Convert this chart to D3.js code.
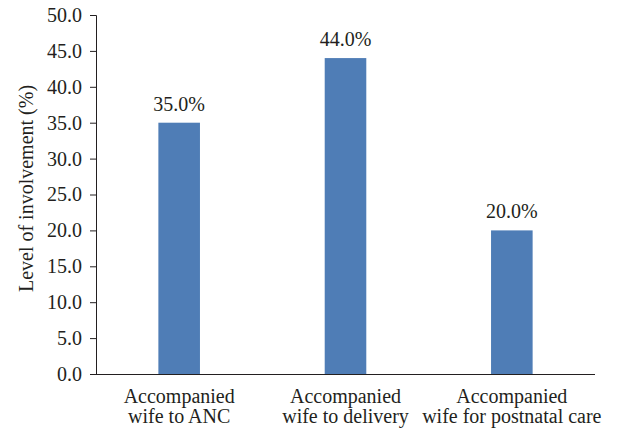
<!DOCTYPE html>
<html>
<head>
<meta charset="utf-8">
<script src="https://cdn.jsdelivr.net/npm/d3@7"></script>
<style>
  body { margin: 0; background: #fff; }
</style>
</head>
<body>
<div id="chart"></div>
<script>
// ── DATA ─────────────────────────────────────────────────────────────────────
const categories = [
  ['Accompanied', 'wife to ANC'],
  ['Accompanied', 'wife to delivery'],
  ['Accompanied', 'wife for postnatal care']
];
const values = [35.0, 44.0, 20.0];
const yTicks = [0, 5, 10, 15, 20, 25, 30, 35, 40, 45, 50];

// ── STYLE ────────────────────────────────────────────────────────────────────
const FONT = '"Liberation Serif", "Times New Roman", serif';
const INK  = '#231f20';
const BAR  = '#4f7db6';

// ── DIMENSIONS ───────────────────────────────────────────────────────────────
const W = 638, H = 432;
const margin = { top: 15, right: 43, bottom: 58, left: 96 };
const width  = W - margin.left - margin.right;
const height = H - margin.top - margin.bottom;

const svg = d3.select('#chart').append('svg')
    .attr('width', W).attr('height', H)
  .append('g')
    .attr('transform', `translate(${margin.left},${margin.top})`);

// ── SCALES ───────────────────────────────────────────────────────────────────
const x = d3.scaleBand()
  .domain(d3.range(values.length))
  .range([0, width])
  .paddingInner(0.75)
  .paddingOuter(0.375);

const y = d3.scaleLinear().domain([0, 50]).range([height, 0]);

// ── BARS ─────────────────────────────────────────────────────────────────────
svg.selectAll('.bar')
  .data(values)
  .join('rect')
    .attr('class', 'bar')
    .attr('x', (d, i) => x(i))
    .attr('y', d => y(d))
    .attr('width', x.bandwidth())
    .attr('height', d => height - y(d))
    .attr('fill', BAR);

svg.selectAll('.val')
  .data(values)
  .join('text')
    .attr('class', 'val')
    .attr('x', (d, i) => x(i) + x.bandwidth() / 2)
    .attr('y', d => y(d) - 12)
    .attr('text-anchor', 'middle')
    .style('font-family', FONT)
    .style('font-size', '20px')
    .style('fill', INK)
    .text(d => d.toFixed(1) + '%');

// ── AXES ─────────────────────────────────────────────────────────────────────
const yAxis = svg.append('g')
  .call(d3.axisLeft(y).tickValues(yTicks).tickSize(6).tickPadding(8)
    .tickFormat(d => d.toFixed(1)));
yAxis.select('.domain').attr('stroke', INK).attr('d', `M0.5,${height}V0.5H-6`);
yAxis.selectAll('.tick line').attr('stroke', INK);
yAxis.selectAll('.tick text')
  .style('font-family', FONT)
  .style('font-size', '20px')
  .style('fill', INK);

svg.append('line')
  .attr('x1', 0).attr('x2', width)
  .attr('y1', height + 0.5).attr('y2', height + 0.5)
  .attr('stroke', INK);

// category labels, two lines each
const cat = svg.selectAll('.cat')
  .data(categories)
  .join('text')
    .attr('class', 'cat')
    .attr('x', (d, i) => x(i) + x.bandwidth() / 2)
    .attr('y', height + 29)
    .attr('text-anchor', 'middle')
    .style('font-family', FONT)
    .style('font-size', '20px')
    .style('fill', INK);
cat.selectAll('tspan')
  .data(d => d)
  .join('tspan')
    .attr('x', function() { return this.parentNode.getAttribute('x'); })
    .attr('dy', (d, i) => i === 0 ? 0 : 20)
    .text(d => d);

svg.append('text')
  .attr('transform', 'rotate(-90)')
  .attr('x', -height / 2 + 6)
  .attr('y', -63)
  .attr('text-anchor', 'middle')
  .style('font-family', FONT)
  .style('font-size', '20px')
  .style('fill', INK)
  .text('Level of involvement (%)');
</script>
</body>
</html>
